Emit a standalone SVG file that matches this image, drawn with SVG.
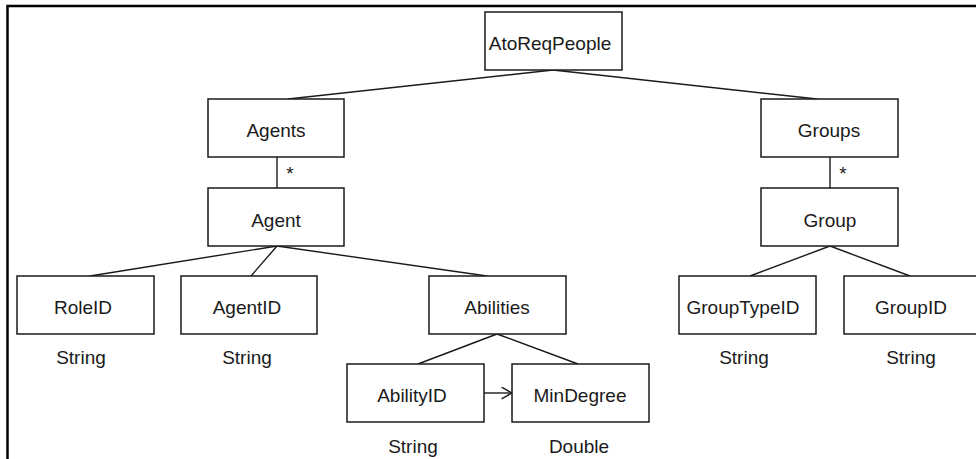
<svg xmlns="http://www.w3.org/2000/svg" width="976" height="459" viewBox="0 0 976 459">
  <style>
    .box { fill: #ffffff; stroke: #1a1a1a; stroke-width: 1.5; }
    .lbl { font-family: "Liberation Sans", Arial, sans-serif; font-size: 19px; fill: #1a1a1a; text-anchor: middle; }
    .edge { stroke: #1a1a1a; stroke-width: 1.4; fill: none; }
    .frame { stroke: #000000; stroke-width: 2.5; fill: none; }
  </style>
  <defs>
    <marker id="open" viewBox="0 0 10 10" refX="10" refY="5" markerWidth="13" markerHeight="13" markerUnits="userSpaceOnUse" orient="auto">
      <path d="M2,0.5 L10,5 L2,9.5" fill="none" stroke="#1a1a1a" stroke-width="1.1"/>
    </marker>
  </defs>

  <rect width="976" height="459" fill="#ffffff"/>
  <!-- page frame -->
  <path class="frame" d="M7.5,459 V6 H976"/>

  <!-- connectors -->
  <g id="connectors">
    <line class="edge" x1="553" y1="70" x2="288" y2="99"/>
    <line class="edge" x1="553" y1="70" x2="817" y2="99"/>
    <line class="edge" x1="277" y1="157" x2="277" y2="188"/>
    <line class="edge" x1="830" y1="157" x2="830" y2="188"/>
    <line class="edge" x1="277" y1="246" x2="90" y2="276"/>
    <line class="edge" x1="277" y1="246" x2="251" y2="276"/>
    <line class="edge" x1="277" y1="246" x2="487" y2="276"/>
    <line class="edge" x1="497" y1="334" x2="418" y2="364"/>
    <line class="edge" x1="497" y1="334" x2="578" y2="364"/>
    <line class="edge" x1="830" y1="246" x2="750" y2="276"/>
    <line class="edge" x1="830" y1="246" x2="910" y2="276"/>
    <line class="edge" x1="484" y1="393" x2="512" y2="393" marker-end="url(#open)"/>
    <text class="lbl" x="290" y="180">*</text>
    <text class="lbl" x="843" y="180">*</text>
  </g>

  <g id="AtoReqPeople">
    <rect class="box" x="485" y="12" width="137" height="58"/>
    <text class="lbl" x="550" y="50">AtoReqPeople</text>
  </g>
  <g id="Agents">
    <rect class="box" x="208" y="99" width="136" height="58"/>
    <text class="lbl" x="276" y="137">Agents</text>
  </g>
  <g id="Groups">
    <rect class="box" x="761" y="99" width="137" height="58"/>
    <text class="lbl" x="829" y="137">Groups</text>
  </g>
  <g id="Agent">
    <rect class="box" x="208" y="188" width="136" height="58"/>
    <text class="lbl" x="276" y="227">Agent</text>
  </g>
  <g id="Group">
    <rect class="box" x="761" y="188" width="137" height="58"/>
    <text class="lbl" x="830" y="227">Group</text>
  </g>
  <g id="RoleID">
    <rect class="box" x="17" y="276" width="137" height="58"/>
    <text class="lbl" x="83" y="314">RoleID</text>
    <text class="lbl" x="81" y="364">String</text>
  </g>
  <g id="AgentID">
    <rect class="box" x="181" y="276" width="136" height="58"/>
    <text class="lbl" x="247" y="314">AgentID</text>
    <text class="lbl" x="247" y="364">String</text>
  </g>
  <g id="Abilities">
    <rect class="box" x="429" y="276" width="137" height="58"/>
    <text class="lbl" x="497" y="314">Abilities</text>
  </g>
  <g id="AbilityID">
    <rect class="box" x="347" y="364" width="137" height="58"/>
    <text class="lbl" x="412" y="402">AbilityID</text>
    <text class="lbl" x="413" y="453">String</text>
  </g>
  <g id="MinDegree">
    <rect class="box" x="512" y="364" width="137" height="58"/>
    <text class="lbl" x="580" y="402">MinDegree</text>
    <text class="lbl" x="579" y="453">Double</text>
  </g>
  <g id="GroupTypeID">
    <rect class="box" x="679" y="276" width="137" height="58"/>
    <text class="lbl" x="743" y="314">GroupTypeID</text>
    <text class="lbl" x="744" y="364">String</text>
  </g>
  <g id="GroupID">
    <rect class="box" x="844" y="276" width="137" height="58"/>
    <text class="lbl" x="911" y="314">GroupID</text>
    <text class="lbl" x="911" y="364">String</text>
  </g>
</svg>
